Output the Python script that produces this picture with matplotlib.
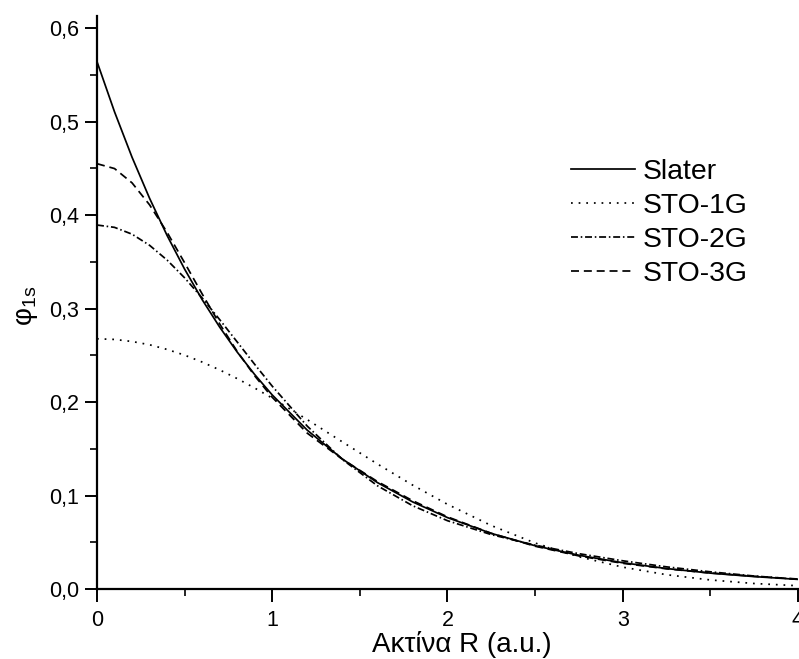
import matplotlib
matplotlib.use('Agg')
import matplotlib.pyplot as plt
from matplotlib.ticker import FuncFormatter, MultipleLocator

plt.rcParams['font.family'] = ['Liberation Sans', 'DejaVu Sans']
plt.rcParams['mathtext.default'] = 'regular'

# Ακτίνα R (a.u.)
r = [0.0, 0.1, 0.2, 0.3, 0.4, 0.5, 0.6, 0.7, 0.8, 0.9, 1.0,
     1.2, 1.4, 1.6, 1.8, 2.0, 2.25, 2.5, 2.75, 3.0, 3.25, 3.5, 3.75, 4.0]

slater = [0.5642, 0.5105, 0.4619, 0.4180, 0.3782, 0.3422, 0.3096, 0.2802, 0.2535, 0.2294, 0.2076,
          0.1699, 0.1391, 0.1139, 0.0933, 0.0764, 0.0595, 0.0463, 0.0361, 0.0281, 0.0219, 0.0170, 0.0133, 0.0103]
sto1g = [0.2677, 0.2670, 0.2648, 0.2613, 0.2563, 0.2502, 0.2428, 0.2344, 0.2251, 0.2150, 0.2042,
         0.1812, 0.1574, 0.1338, 0.1113, 0.0906, 0.0679, 0.0492, 0.0345, 0.0234, 0.0153, 0.0097, 0.0059, 0.0035]
sto2g = [0.3894, 0.3869, 0.3796, 0.3677, 0.3519, 0.3329, 0.3114, 0.2882, 0.2643, 0.2403, 0.2170,
         0.1742, 0.1386, 0.1105, 0.0892, 0.0731, 0.0582, 0.0469, 0.0378, 0.0302, 0.0237, 0.0184, 0.0139, 0.0104]
sto3g = [0.4550, 0.4498, 0.4345, 0.4110, 0.3816, 0.3490, 0.3157, 0.2836, 0.2542, 0.2280, 0.2051,
         0.1667, 0.1389, 0.1150, 0.0946, 0.0772, 0.0596, 0.0458, 0.0354, 0.0275, 0.0216, 0.0171, 0.0136, 0.0107]

fig = plt.figure(figsize=(7.99, 6.59), dpi=100)
ax = fig.add_axes([0.1214, 0.1062, 0.8773, 0.8695])

lw = 1.25
ax.plot(r, slater, color='black', lw=lw, label='Slater')
ax.plot(r, sto1g, color='black', lw=lw, dashes=(1, 3.4), label='STO-1G')
ax.plot(r, sto2g, color='black', lw=lw, dashes=(4.0, 1.6, 0.9, 1.6), label='STO-2G')
ax.plot(r, sto3g, color='black', lw=lw, dashes=(4.6, 2.8), label='STO-3G')

ax.set_xlim(0, 4)
ax.set_ylim(0, 0.613)
ax.spines['top'].set_visible(False)
ax.spines['right'].set_visible(False)
ax.spines['left'].set_linewidth(1.6)
ax.spines['bottom'].set_linewidth(1.6)

ax.xaxis.set_major_locator(MultipleLocator(1))
ax.xaxis.set_minor_locator(MultipleLocator(0.5))
ax.yaxis.set_major_locator(MultipleLocator(0.1))
ax.yaxis.set_minor_locator(MultipleLocator(0.05))
ax.xaxis.set_major_formatter(FuncFormatter(lambda v, p: f'{v:.0f}'))
ax.yaxis.set_major_formatter(FuncFormatter(lambda v, p: f'{v:.1f}'.replace('.', ',')))
ax.tick_params(which='major', direction='out', length=9, width=1.4, labelsize=15.5)
ax.tick_params(axis='x', which='major', pad=6)
ax.tick_params(axis='y', which='major', pad=4)
ax.tick_params(which='minor', direction='out', length=5, width=1.2)

ax.set_xlabel('Ακτίνα R (a.u.)', fontsize=20)
ax.set_ylabel('φ$_{1s}$', fontsize=20)
ax.xaxis.set_label_coords(0.521, -0.073)
ax.yaxis.set_label_coords(-0.081, 0.494)

ax.legend(loc='upper left', bbox_to_anchor=(0.683, 0.798), bbox_transform=fig.transFigure,
          frameon=False, fontsize=20.4, handlelength=2.25, handletextpad=0.28,
          labelspacing=0.29, borderpad=0.4)

fig.savefig('out.png', dpi=100)
